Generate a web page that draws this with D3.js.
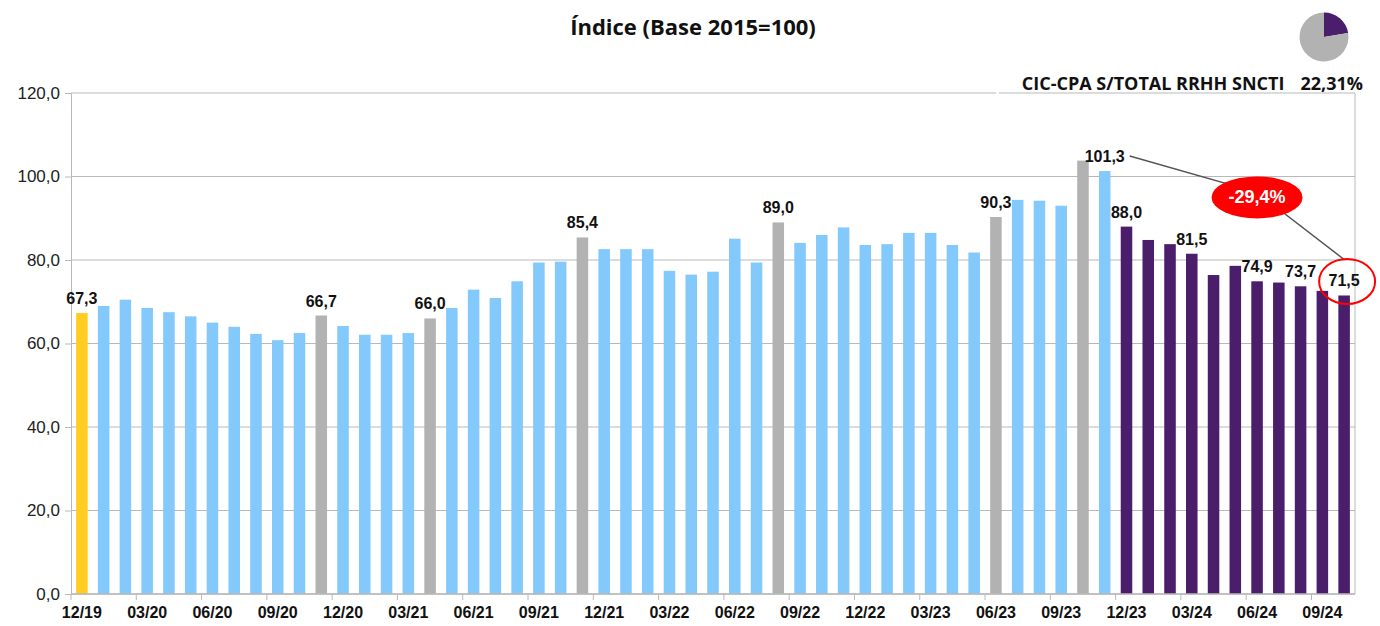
<!DOCTYPE html>
<html>
<head>
<meta charset="utf-8">
<script src="https://cdn.jsdelivr.net/npm/d3@7"></script>
<style>
body { margin: 0; background: #fff; }
</style>
</head>
<body>
<svg id="chart"></svg>
<script>
// meses (mm/aa)
const months = [
  "12/19","01/20","02/20","03/20","04/20","05/20","06/20","07/20","08/20","09/20","10/20","11/20",
  "12/20","01/21","02/21","03/21","04/21","05/21","06/21","07/21","08/21","09/21","10/21","11/21",
  "12/21","01/22","02/22","03/22","04/22","05/22","06/22","07/22","08/22","09/22","10/22","11/22",
  "12/22","01/23","02/23","03/23","04/23","05/23","06/23","07/23","08/23","09/23","10/23","11/23",
  "12/23","01/24","02/24","03/24","04/24","05/24","06/24","07/24","08/24","09/24","10/24"
];
const values = [
  67.3, 69.0, 70.5, 68.5, 67.5, 66.5, 65.0, 64.0, 62.3, 60.8, 62.5, 66.7,
  64.2, 62.1, 62.1, 62.5, 66.0, 68.5, 72.9, 70.9, 74.9, 79.4, 79.6, 85.4,
  82.6, 82.6, 82.6, 77.4, 76.5, 77.2, 85.1, 79.4, 89.0, 84.1, 86.0, 87.8,
  83.6, 83.8, 86.5, 86.5, 83.6, 81.8, 90.3, 94.4, 94.2, 93.0, 103.8, 101.3,
  88.0, 84.8, 83.8, 81.5, 76.4, 78.6, 74.9, 74.6, 73.7, 72.6, 71.5
];
const tickMonths = ["12/19","03/20","06/20","09/20","12/20","03/21","06/21","09/21","12/21","03/22",
  "06/22","09/22","12/22","03/23","06/23","09/23","12/23","03/24","06/24","09/24"];
const yTicks = [0, 20, 40, 60, 80, 100, 120];
const baseMonth = "12/19";
const grayMonths = ["11/20","04/21","11/21","08/22","06/23","10/23"];
const purpleMonths = ["12/23","01/24","02/24","03/24","04/24","05/24","06/24","07/24","08/24","09/24","10/24"];
const labeledMonths = ["12/19","11/20","04/21","11/21","08/22","06/23","11/23","12/23","03/24","06/24","08/24","10/24"];
const peakMonth = "11/23";
const lastMonth = "10/24";
const shareLabel = "CIC-CPA S/TOTAL RRHH SNCTI";
const shareValue = 22.31;

const width = 1380, height = 626;
const margin = {top: 93, right: 25, bottom: 32, left: 71};
const innerW = width - margin.left - margin.right;
const innerH = height - margin.top - margin.bottom;

const colors = {base: "#ffcc22", normal: "#83c9fb", gray: "#b2b2b2", purple: "#4b1e6c", grid: "#b9b9b9"};

const locale = d3.formatLocale({decimal: ",", thousands: ".", grouping: [3], currency: ["", "€"], minus: "-"});
const fmt = locale.format(".1f");
const fmtPct = locale.format(".2f");

const data = months.map((m, i) => ({month: m, value: values[i]}));

function barColor(m) {
  if (m === baseMonth) return colors.base;
  if (grayMonths.includes(m)) return colors.gray;
  if (purpleMonths.includes(m)) return colors.purple;
  return colors.normal;
}

const svg = d3.select("#chart")
  .attr("width", width)
  .attr("height", height)
  .style("font-family", "'Liberation Sans', Arial, sans-serif");

const x = d3.scaleBand()
  .domain(months)
  .range([0, innerW])
  .paddingInner(0.47)
  .paddingOuter(0.235);

const y = d3.scaleLinear()
  .domain([0, 120])
  .range([innerH, 0]);

const g = svg.append("g")
  .attr("transform", `translate(${margin.left}, ${margin.top})`);

// grid
g.append("g")
  .selectAll("line")
  .data(yTicks)
  .join("line")
  .attr("x1", 0)
  .attr("x2", innerW)
  .attr("y1", d => y(d))
  .attr("y2", d => y(d))
  .attr("stroke", colors.grid)
  .attr("stroke-width", 1);

// right border
g.append("line")
  .attr("x1", innerW).attr("x2", innerW)
  .attr("y1", 0).attr("y2", innerH)
  .attr("stroke", colors.grid);

// bars
g.append("g")
  .selectAll("rect")
  .data(data)
  .join("rect")
  .attr("x", d => x(d.month))
  .attr("y", d => y(d.value))
  .attr("width", x.bandwidth())
  .attr("height", d => innerH - y(d.value))
  .attr("fill", d => barColor(d.month));

// y axis
const yAxis = g.append("g")
  .call(d3.axisLeft(y).tickValues(yTicks).tickFormat(fmt).tickSize(6).tickPadding(5));
yAxis.select(".domain").attr("stroke", colors.grid);
yAxis.selectAll(".tick line").attr("stroke", colors.grid);
yAxis.selectAll("text")
  .attr("font-size", 17)
  .attr("fill", "#222")
  .style("font-family", "'Liberation Sans', Arial, sans-serif");

// x axis: ticks at the left edge of each labelled month, labels centred on the bar
const step = x.step();
const xAxis = g.append("g")
  .attr("transform", `translate(0, ${innerH})`);
xAxis.append("line")
  .attr("x1", 0).attr("x2", innerW)
  .attr("stroke", colors.grid).attr("stroke-width", 1.5);
xAxis.selectAll(".xt")
  .data(tickMonths)
  .join("line")
  .attr("class", "xt")
  .attr("x1", d => x(d) - x.paddingOuter() * step)
  .attr("x2", d => x(d) - x.paddingOuter() * step)
  .attr("y1", 0).attr("y2", 6)
  .attr("stroke", colors.grid);
xAxis.selectAll(".xl")
  .data(tickMonths)
  .join("text")
  .attr("class", "xl")
  .attr("x", d => x(d) + x.bandwidth() / 2)
  .attr("y", 24)
  .attr("text-anchor", "middle")
  .attr("font-size", 16)
  .attr("font-weight", "bold")
  .attr("fill", "#111")
  .text(d => d);

// data labels
g.append("g")
  .selectAll("text")
  .data(data.filter(d => labeledMonths.includes(d.month)))
  .join("text")
  .attr("x", d => x(d.month) + x.bandwidth() / 2)
  .attr("y", d => y(d.value) - 9)
  .attr("text-anchor", "middle")
  .attr("font-size", 16)
  .attr("font-weight", "bold")
  .attr("fill", "#111")
  .text(d => fmt(d.value));

// variation annotation
const peak = data.find(d => d.month === peakMonth);
const last = data.find(d => d.month === lastMonth);
const change = (last.value / peak.value - 1) * 100;
const lastCx = x(last.month) + x.bandwidth() / 2 + 3;
const lastCy = y(last.value) - 14;
const ellX = x("06/24") + x.bandwidth() / 2;
const ellY = y(95);

g.append("path")
  .attr("d", d3.line()([
    [x(peak.month) + x.bandwidth() / 2 + 25, y(peak.value) - 15],
    [ellX, ellY - 5],
    [lastCx - 3, lastCy - 22]
  ]))
  .attr("fill", "none")
  .attr("stroke", "#555")
  .attr("stroke-width", 1.5);

g.append("ellipse")
  .attr("cx", ellX).attr("cy", ellY)
  .attr("rx", 45.5).attr("ry", 21)
  .attr("fill", "#ff0000");
g.append("text")
  .attr("x", ellX).attr("y", ellY + 6)
  .attr("text-anchor", "middle")
  .attr("font-size", 18)
  .attr("font-weight", "bold")
  .attr("fill", "#fff")
  .text(fmt(change) + "%");

g.append("ellipse")
  .attr("cx", lastCx).attr("cy", lastCy)
  .attr("rx", 28).attr("ry", 22.5)
  .attr("fill", "none")
  .attr("stroke", "#ff0000")
  .attr("stroke-width", 2);

// title
svg.append("text")
  .attr("x", 693)
  .attr("y", 35)
  .attr("text-anchor", "middle")
  .attr("font-size", 22)
  .attr("font-weight", "bold")
  .style("font-family", "'Open Sans', sans-serif")
  .attr("fill", "#111")
  .text("Índice (Base 2015=100)");

// share pie + label
const pie = d3.pie().sort(null)([shareValue, 100 - shareValue]);
const arc = d3.arc().innerRadius(0).outerRadius(24.5);
svg.append("g")
  .attr("transform", "translate(1324, 37)")
  .selectAll("path")
  .data(pie)
  .join("path")
  .attr("d", arc)
  .attr("fill", (d, i) => i === 0 ? colors.purple : colors.gray);

svg.append("rect")
  .attr("x", 996).attr("y", 90).attr("width", 3).attr("height", 6)
  .attr("fill", "#fff");

const shareText = svg.append("text")
  .attr("x", 1363)
  .attr("y", 90)
  .attr("text-anchor", "end")
  .attr("font-size", 18)
  .attr("font-weight", "bold")
  .style("font-family", "'Open Sans', sans-serif")
  .attr("fill", "#111");
shareText.append("tspan").text(shareLabel);
shareText.append("tspan").attr("dx", 16).text(fmtPct(shareValue) + "%");
</script>
</body>
</html>
